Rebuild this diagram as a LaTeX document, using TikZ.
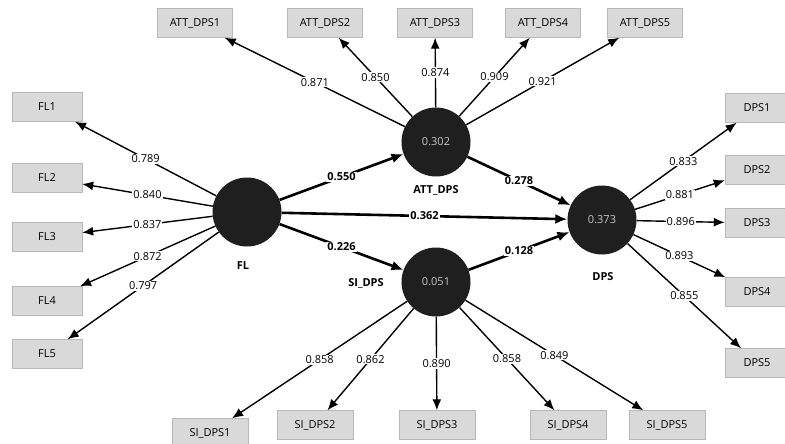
\documentclass[tikz,border=0pt]{standalone}
\usepackage{fontspec}
\setmainfont{Open Sans}
\usepackage{tikz}
\usetikzlibrary{arrows.meta}
\tikzset{latent/.style={circle, fill=black!88, text=black!22, minimum size=69pt, inner sep=0pt}}
\tikzset{item/.style={rectangle, fill=black!15, draw=black!28, minimum height=29pt, inner sep=2pt}}
\tikzset{load/.style={line width=1.4pt, -{Latex[length=11pt, width=9pt]}}}
\tikzset{inner/.style={line width=2.6pt, -{Latex[length=12pt, width=10pt]}}}
\tikzset{coef/.style={fill=white, inner sep=1pt}}

\begin{document}
\begin{tikzpicture}[x=1pt, y=-1pt, every node/.style={font=\fontsize{11}{13}\selectfont}]
  \useasboundingbox (0, 0) rectangle (785, 444);

  % constructs
  \node[latent] at (247, 212) (FL) {};
  \node[latent] at (436, 142) (ATT) {0.302};
  \node[latent] at (436, 282) (SI) {0.051};
  \node[latent] at (602, 220) (DPS) {0.373};
  \node[font=\fontsize{11}{13}\selectfont\bfseries] at (243, 266) (FLname) {FL};
  \node[font=\fontsize{11}{13}\selectfont\bfseries] at (436, 190) (ATTname) {ATT\_DPS};
  \node[font=\fontsize{11}{13}\selectfont\bfseries] at (366, 283) (SIname) {SI\_DPS};
  \node[font=\fontsize{11}{13}\selectfont\bfseries] at (603, 277) (DPSname) {DPS};

  % indicators
  \node[item, minimum width=70pt] at (47, 107) (FL1) {FL1};
  \node[item, minimum width=70pt] at (47, 178) (FL2) {FL2};
  \node[item, minimum width=70pt] at (47, 237) (FL3) {FL3};
  \node[item, minimum width=70pt] at (47, 301) (FL4) {FL4};
  \node[item, minimum width=70pt] at (47, 354) (FL5) {FL5};
  \node[item, minimum width=75pt] at (195, 23) (ATT1) {ATT\_DPS1};
  \node[item, minimum width=75pt] at (325, 23) (ATT2) {ATT\_DPS2};
  \node[item, minimum width=75pt] at (435, 23) (ATT3) {ATT\_DPS3};
  \node[item, minimum width=75pt] at (543, 23) (ATT4) {ATT\_DPS4};
  \node[item, minimum width=75pt] at (645, 23) (ATT5) {ATT\_DPS5};
  \node[item, minimum width=64pt] at (757, 108) (DPS1) {DPS1};
  \node[item, minimum width=64pt] at (757, 170) (DPS2) {DPS2};
  \node[item, minimum width=64pt] at (757, 223) (DPS3) {DPS3};
  \node[item, minimum width=64pt] at (757, 292) (DPS4) {DPS4};
  \node[item, minimum width=64pt] at (757, 363) (DPS5) {DPS5};
  \node[item, minimum width=76pt] at (210, 433) (SI1) {SI\_DPS1};
  \node[item, minimum width=76pt] at (315, 425) (SI2) {SI\_DPS2};
  \node[item, minimum width=76pt] at (437, 425) (SI3) {SI\_DPS3};
  \node[item, minimum width=76pt] at (568, 425) (SI4) {SI\_DPS4};
  \node[item, minimum width=76pt] at (667, 425) (SI5) {SI\_DPS5};

  % outer loadings
  \draw[load] (FL) -- node[coef] {0.789} (FL1);
  \draw[load] (FL) -- node[coef] {0.840} (FL2);
  \draw[load] (FL) -- node[coef] {0.837} (FL3);
  \draw[load] (FL) -- node[coef] {0.872} (FL4);
  \draw[load] (FL) -- node[coef] {0.797} (FL5);
  \draw[load] (ATT) -- node[coef] {0.871} (ATT1);
  \draw[load] (ATT) -- node[coef] {0.850} (ATT2);
  \draw[load] (ATT) -- node[coef] {0.874} (ATT3);
  \draw[load] (ATT) -- node[coef] {0.909} (ATT4);
  \draw[load] (ATT) -- node[coef] {0.921} (ATT5);
  \draw[load] (DPS) -- node[coef] {0.833} (DPS1);
  \draw[load] (DPS) -- node[coef] {0.881} (DPS2);
  \draw[load] (DPS) -- node[coef] {0.896} (DPS3);
  \draw[load] (DPS) -- node[coef] {0.893} (DPS4);
  \draw[load] (DPS) -- node[coef] {0.855} (DPS5);
  \draw[load] (SI) -- node[coef] {0.858} (SI1);
  \draw[load] (SI) -- node[coef] {0.862} (SI2);
  \draw[load] (SI) -- node[coef] {0.890} (SI3);
  \draw[load] (SI) -- node[coef] {0.858} (SI4);
  \draw[load] (SI) -- node[coef] {0.849} (SI5);

  % path coefficients
  \draw[inner] (FL) -- node[coef, font=\fontsize{11}{13}\selectfont\bfseries] {0.550} (ATT);
  \draw[inner] (FL) -- node[coef, font=\fontsize{11}{13}\selectfont\bfseries] {0.226} (SI);
  \draw[inner] (FL) -- node[coef, font=\fontsize{11}{13}\selectfont\bfseries] {0.362} (DPS);
  \draw[inner] (ATT) -- node[coef, font=\fontsize{11}{13}\selectfont\bfseries] {0.278} (DPS);
  \draw[inner] (SI) -- node[coef, font=\fontsize{11}{13}\selectfont\bfseries] {0.128} (DPS);
\end{tikzpicture}
\end{document}
